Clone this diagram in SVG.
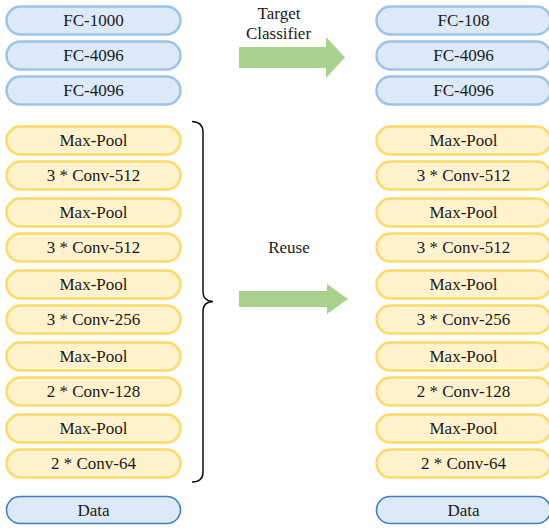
<svg xmlns="http://www.w3.org/2000/svg" width="549" height="528" viewBox="0 0 549 528" font-family="'Liberation Serif', 'Times New Roman', Times, serif">
<style>
.fc{fill:#DCE9F6;stroke:#9DC3E6;stroke-width:2.5}
.cv{fill:#FFF2CC;stroke:#FFD966;stroke-width:2.5}
.dt{fill:#DCE9F6;stroke:#3F7FBF;stroke-width:1.6}
text{font-size:17px;fill:#1a1a1a;text-anchor:middle}
.arr{fill:#A9D18E}
</style>
<rect width="549" height="528" fill="#fff"/>
<g id="left-fc1000"><rect class="fc" x="6.5" y="6.5" width="174" height="28" rx="14"/><text x="93.5" y="26">FC-1000</text></g>
<g id="left-fc4096a"><rect class="fc" x="6.5" y="41.5" width="174" height="28" rx="14"/><text x="93.5" y="61">FC-4096</text></g>
<g id="left-fc4096b"><rect class="fc" x="6.5" y="76.5" width="174" height="28" rx="14"/><text x="93.5" y="96">FC-4096</text></g>
<g id="left-pool5"><rect class="cv" x="6.5" y="126.5" width="174" height="28" rx="14"/><text x="93.5" y="146">Max-Pool</text></g>
<g id="left-conv5"><rect class="cv" x="6.5" y="161.5" width="174" height="28" rx="14"/><text x="93.5" y="181">3 * Conv-512</text></g>
<g id="left-pool4"><rect class="cv" x="6.5" y="198.5" width="174" height="28" rx="14"/><text x="93.5" y="218">Max-Pool</text></g>
<g id="left-conv4"><rect class="cv" x="6.5" y="233.5" width="174" height="28" rx="14"/><text x="93.5" y="253">3 * Conv-512</text></g>
<g id="left-pool3"><rect class="cv" x="6.5" y="270.5" width="174" height="28" rx="14"/><text x="93.5" y="290">Max-Pool</text></g>
<g id="left-conv3"><rect class="cv" x="6.5" y="305.5" width="174" height="28" rx="14"/><text x="93.5" y="325">3 * Conv-256</text></g>
<g id="left-pool2"><rect class="cv" x="6.5" y="342.5" width="174" height="28" rx="14"/><text x="93.5" y="362">Max-Pool</text></g>
<g id="left-conv2"><rect class="cv" x="6.5" y="377.5" width="174" height="28" rx="14"/><text x="93.5" y="397">2 * Conv-128</text></g>
<g id="left-pool1"><rect class="cv" x="6.5" y="414.5" width="174" height="28" rx="14"/><text x="93.5" y="434">Max-Pool</text></g>
<g id="left-conv1"><rect class="cv" x="6.5" y="449.5" width="174" height="28" rx="14"/><text x="93.5" y="469">2 * Conv-64</text></g>
<g id="left-data"><rect class="dt" x="6.5" y="496.5" width="174" height="27" rx="13.5"/><text x="93.5" y="516">Data</text></g>

<g id="right-fc108"><rect class="fc" x="376.5" y="6.5" width="174" height="28" rx="14"/><text x="463.5" y="26">FC-108</text></g>
<g id="right-fc4096a"><rect class="fc" x="376.5" y="41.5" width="174" height="28" rx="14"/><text x="463.5" y="61">FC-4096</text></g>
<g id="right-fc4096b"><rect class="fc" x="376.5" y="76.5" width="174" height="28" rx="14"/><text x="463.5" y="96">FC-4096</text></g>
<g id="right-pool5"><rect class="cv" x="376.5" y="126.5" width="174" height="28" rx="14"/><text x="463.5" y="146">Max-Pool</text></g>
<g id="right-conv5"><rect class="cv" x="376.5" y="161.5" width="174" height="28" rx="14"/><text x="463.5" y="181">3 * Conv-512</text></g>
<g id="right-pool4"><rect class="cv" x="376.5" y="198.5" width="174" height="28" rx="14"/><text x="463.5" y="218">Max-Pool</text></g>
<g id="right-conv4"><rect class="cv" x="376.5" y="233.5" width="174" height="28" rx="14"/><text x="463.5" y="253">3 * Conv-512</text></g>
<g id="right-pool3"><rect class="cv" x="376.5" y="270.5" width="174" height="28" rx="14"/><text x="463.5" y="290">Max-Pool</text></g>
<g id="right-conv3"><rect class="cv" x="376.5" y="305.5" width="174" height="28" rx="14"/><text x="463.5" y="325">3 * Conv-256</text></g>
<g id="right-pool2"><rect class="cv" x="376.5" y="342.5" width="174" height="28" rx="14"/><text x="463.5" y="362">Max-Pool</text></g>
<g id="right-conv2"><rect class="cv" x="376.5" y="377.5" width="174" height="28" rx="14"/><text x="463.5" y="397">2 * Conv-128</text></g>
<g id="right-pool1"><rect class="cv" x="376.5" y="414.5" width="174" height="28" rx="14"/><text x="463.5" y="434">Max-Pool</text></g>
<g id="right-conv1"><rect class="cv" x="376.5" y="449.5" width="174" height="28" rx="14"/><text x="463.5" y="469">2 * Conv-64</text></g>
<g id="right-data"><rect class="dt" x="376.5" y="496.5" width="174" height="27" rx="13.5"/><text x="463.5" y="516">Data</text></g>

<g id="connectors">
<path d="M192,121.5 Q203,122 203,132 L203,292 Q203,301 213,301.5 Q203,302 203,311 L203,472 Q203,482 192,482" fill="none" stroke="#111" stroke-width="1.5"/>
<polygon class="arr" points="239,47 326,47 326,37 345,57.5 326,78 326,68 239,68"/>
<polygon class="arr" points="239,291 327,291 327,284 348,299 327,314 327,307 239,307"/>
<text x="279" y="19">Target</text>
<text x="278.5" y="39">Classifier</text>
<text x="289" y="253">Reuse</text>
</g>
</svg>
